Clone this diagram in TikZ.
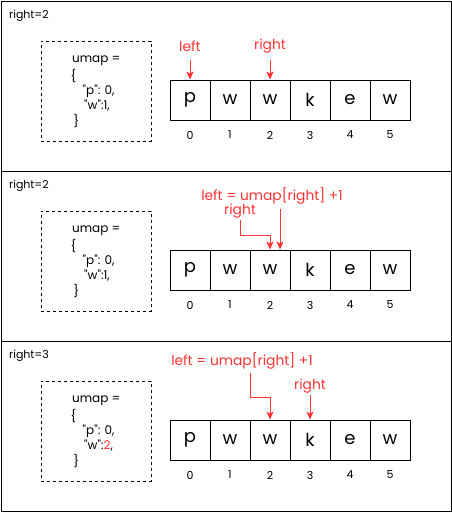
\documentclass[tikz,border=0pt]{standalone}
\usepackage{fontspec}
\setmainfont{Poppins}
\newfontfamily\codefont{Poppins}[Ligatures=TeXOff]
\usetikzlibrary{arrows.meta}
\definecolor{hl}{HTML}{FF3333}
\begin{document}
\begin{tikzpicture}[x=1pt,y=-1pt,
  frame/.style={draw=black,line width=1pt,minimum width=450pt,minimum height=170pt,inner sep=0pt,anchor=north west},
  cell/.style={draw=black,line width=0.9pt,minimum width=40pt,minimum height=40pt,inner sep=0pt,font=\fontsize{18}{20}\selectfont},
  idx/.style={inner sep=0pt,font=\fontsize{11}{13}\selectfont},
  title/.style={anchor=west,inner sep=0pt,font=\fontsize{11}{13}\selectfont},
  code/.style={anchor=west,inner sep=0pt,font=\codefont\fontsize{12}{14}\selectfont},
  note/.style={text=hl,inner sep=0pt,font=\fontsize{13.8}{15}\selectfont},
  memo/.style={draw=black,dash pattern=on 3pt off 3pt,line width=0.9pt,minimum width=110pt,minimum height=100pt,inner sep=0pt,anchor=north west},
  arr/.style={draw=hl,line width=1pt,-{Stealth[length=8pt,width=7pt,inset=2pt]}}]
\useasboundingbox (0,0) rectangle (452,512);
\foreach \p/\oy/\tt/\wv in {1/0/{right=2}/1, 2/170/{right=2}/1, 3/340/{right=3}/{\textcolor{hl}{2}}} {
  \node[frame] (f\p) at (0.5,\oy+0.5) {};
  \node[title] (t\p) at (9,\oy+15.5) {\tt};
  \node[memo] (m\p) at (40.5,\oy+40.5) {};
  \node[code] (ua\p) at (72,\oy+61) {umap =};
  \node[code] (ub\p) at (70.5,\oy+76) {\{};
  \node[code] (uc\p) at (82.5,\oy+91) {"p": 0,};
  \node[code] (ud\p) at (84,\oy+106) {"w":\wv,};
  \node[code] (ue\p) at (73.5,\oy+121.5) {\}};
  \foreach \i/\ch in {0/p,1/w,2/w,3/k,4/e,5/w} {
    \node[cell] (c\p-\i) at (190+40*\i,\oy+100) {\ch};
    \node[idx] (n\p-\i) at (190+40*\i,\oy+135) {\i};
  }
}
% panel 1
\node[note] (l1) at (190,46) {left};
\node[note] (r1) at (270,46) {right};
\coordinate (l1s) at (190,60);
\coordinate (r1s) at (270,60);
\draw[arr] (l1s) -- (c1-0.north);
\draw[arr] (r1s) -- (c1-2.north);
% panel 2
\node[note] (e2) at (272,196) {left = umap[right] +1};
\node[note] (r2) at (240,211.5) {right};
\coordinate (r2s) at (240,220);
\coordinate (e2s) at (280,209);
\draw[arr] (r2s) -- ++(0,15) -| (c2-2.north);
\draw[arr] (e2s) -- (e2s |- c2-2.north);
% panel 3
\node[note] (e3) at (242,361) {left = umap[right] +1};
\node[note] (r3) at (310,386.5) {right};
\coordinate (e3s) at (250,372.5);
\coordinate (r3s) at (310,395);
\draw[arr] (e3s) -- ++(0,25) -| (c3-2.north);
\draw[arr] (r3s) -- (c3-3.north);
\end{tikzpicture}
\end{document}
